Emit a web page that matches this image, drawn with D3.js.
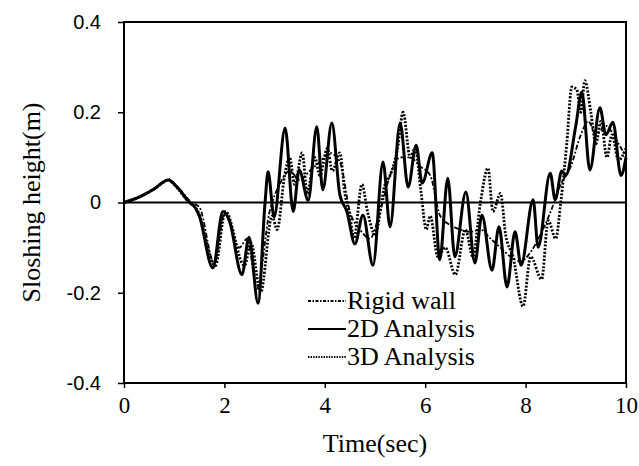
<!DOCTYPE html>
<html lang="en">
<head>
    <meta charset="UTF-8">
    <title>Sloshing height</title>
    <script src="https://cdnjs.cloudflare.com/ajax/libs/d3/7.8.5/d3.min.js"></script>
    <style>
        body {
            margin: 0;
            background-color: white;
        }

        #chart text {
            fill: black;
        }
    </style>
</head>
<body>
<section id="chart"></section>
<script>
    // values
    const xTicks = [0, 2, 4, 6, 8, 10];
    const yTicks = [0.4, 0.2, 0, -0.2, -0.4];
    const yTickLabels = ['0.4', '0.2', '0', '-0.2', '-0.4'];
    const legendLabels = ['Rigid wall', '2D Analysis', '3D Analysis'];

    const timeRigid = [0, 0.3, 0.6, 0.9, 1.1, 1.35, 1.5, 1.8, 2.0, 2.3, 2.45, 2.65, 2.9, 3.1, 3.3, 3.5, 3.7,
        3.9, 4.1, 4.3, 4.5, 4.7, 4.9, 5.1, 5.3, 5.5, 5.7, 5.9, 6.1, 6.3, 6.5, 6.7, 6.9, 7.1, 7.3, 7.5, 7.7,
        7.9, 8.1, 8.3, 8.5, 8.7, 8.9, 9.1, 9.25, 9.4, 9.6, 9.8, 10];
    const rigidWall = [0, 0.012, 0.03, 0.05, 0.03, 0, -0.01, -0.135, -0.025, -0.1, -0.08, -0.19, -0.02, 0.04,
        0.07, 0.05, 0.07, 0.09, 0.11, 0.09, -0.02, -0.06, -0.08, -0.02, 0.06, 0.1, 0.1, 0.08, 0.06, -0.03,
        -0.05, -0.06, -0.065, -0.06, -0.08, -0.1, -0.12, -0.13, -0.11, -0.07, -0.02, 0.04, 0.08, 0.15, 0.18,
        0.15, 0.17, 0.14, 0.1];

    const time2D = [0, 0.3, 0.6, 0.88, 1.05, 1.31, 1.41, 1.5, 1.77, 1.97, 2.1, 2.35, 2.49, 2.67, 2.81, 2.87,
        2.99, 3.21, 3.37, 3.49, 3.67, 3.84, 3.96, 4.14, 4.3, 4.44, 4.6, 4.76, 4.96, 5.16, 5.3, 5.5, 5.66,
        5.82, 5.94, 6.14, 6.29, 6.45, 6.59, 6.81, 6.99, 7.13, 7.33, 7.47, 7.63, 7.79, 7.91, 8.15, 8.25, 8.49,
        8.59, 8.72, 8.8, 9.0, 9.12, 9.28, 9.48, 9.6, 9.74, 9.9, 10];
    const analysis2D = [0, 0.012, 0.03, 0.05, 0.035, 0, -0.01, -0.03, -0.145, -0.02, -0.04, -0.16, -0.077,
        -0.223, 0, 0.068, -0.032, 0.165, -0.02, 0.072, 0.005, 0.168, 0.028, 0.176, 0.017, -0.02, -0.092,
        -0.028, -0.139, 0.09, -0.054, 0.176, 0.034, 0.127, 0.043, 0.11, -0.127, 0.054, -0.12, 0.023, -0.134,
        -0.028, -0.15, -0.054, -0.187, -0.065, -0.139, 0.006, -0.099, 0.065, 0.006, 0.07, 0.06, 0.17, 0.245,
        0.072, 0.21, 0.15, 0.178, 0.06, 0.1];

    const time3D = [0, 0.3, 0.6, 0.9, 1.0, 1.3, 1.45, 1.82, 2.02, 2.4, 2.53, 2.72, 2.95, 3.05, 3.2, 3.3, 3.4,
        3.55, 3.65, 3.8, 3.9, 4.05, 4.15, 4.3, 4.4, 4.5, 4.58, 4.74, 4.85, 5.0, 5.2, 5.3, 5.45, 5.56, 5.7,
        5.8, 5.92, 6.02, 6.1, 6.25, 6.4, 6.6, 6.8, 6.95, 7.1, 7.25, 7.35, 7.5, 7.6, 7.75, 7.95, 8.1, 8.32,
        8.45, 8.6, 8.7, 8.82, 8.92, 9.02, 9.1, 9.18, 9.3, 9.4, 9.5, 9.62, 9.72, 9.85, 10];
    const analysis3D = [0, 0.012, 0.03, 0.05, 0.04, 0, -0.015, -0.14, -0.02, -0.14, -0.09, -0.2, -0.03, -0.06,
        0.06, 0.1, 0.04, 0.11, 0.02, 0.1, 0.06, 0.12, 0.07, 0.11, 0.02, -0.03, -0.08, 0.04, -0.02, -0.07,
        0.04, 0.06, 0.12, 0.2, 0.1, 0.12, 0.02, -0.06, -0.03, -0.12, -0.1, -0.16, -0.06, -0.12, 0, 0.076,
        -0.02, 0.02, -0.07, -0.12, -0.23, -0.12, -0.17, -0.04, -0.08, 0, 0.13, 0.256, 0.25, 0.2, 0.27, 0.2,
        0.13, 0.18, 0.1, 0.15, 0.094, 0.12];

    const serif = '"Liberation Serif", "Times New Roman", serif';
    const sans = '"Liberation Sans", Arial, sans-serif';

    const width = 639;
    const height = 466;
    const margin = {top: 22, right: 13, bottom: 83, left: 124};

    const svg = d3.select('#chart')
        .append('svg')
        .attr('width', width)
        .attr('height', height);

    const x = d3.scaleLinear().domain([0, 10]).range([margin.left, width - margin.right]);
    const y = d3.scaleLinear().domain([-0.4, 0.4]).range([height - margin.bottom, margin.top]);

    const series = [
        {time: timeRigid, values: rigidWall, width: 1.8, dash: '5,2,1.8,2', legendDash: '3,1.5,1.5,1.5'},
        {time: time2D, values: analysis2D, width: 3, dash: null, legendDash: null},
        {time: time3D, values: analysis3D, width: 2.8, dash: '2,1.6', legendDash: '1.4,1.2'}
    ];

    const line = d3.line()
        .x(d => x(d[0]))
        .y(d => y(d[1]))
        .curve(d3.curveMonotoneX);

    // zero line
    svg.append('line')
        .attr('x1', x(0)).attr('x2', x(10))
        .attr('y1', y(0)).attr('y2', y(0))
        .attr('stroke', 'black').attr('stroke-width', 2);

    svg.append('g')
        .selectAll('path')
        .data(series)
        .enter()
        .append('path')
        .attr('fill', 'none')
        .attr('stroke', 'black')
        .attr('stroke-width', d => d.width)
        .attr('stroke-dasharray', d => d.dash)
        .attr('stroke-linejoin', 'round')
        .attr('d', d => line(d.time.map((t, i) => [t, d.values[i]])));

    // frame
    svg.append('rect')
        .attr('x', x(0)).attr('y', y(0.4))
        .attr('width', x(10) - x(0)).attr('height', y(-0.4) - y(0.4))
        .attr('fill', 'none').attr('stroke', 'black').attr('stroke-width', 2);

    const xAxis = svg.append('g')
        .attr('transform', `translate(0, ${y(-0.4)})`)
        .call(d3.axisBottom(x).tickValues(xTicks).tickSize(5).tickPadding(9));
    xAxis.select('.domain').remove();
    xAxis.selectAll('line').attr('stroke-width', 1.5);
    xAxis.selectAll('text').style('font-family', serif).style('font-size', '23px');

    const yAxis = svg.append('g')
        .attr('transform', `translate(${x(0)}, 0)`)
        .call(d3.axisLeft(y).tickValues(yTicks).tickSize(6).tickPadding(17)
            .tickFormat((d, i) => yTickLabels[i]));
    yAxis.select('.domain').remove();
    yAxis.selectAll('line').attr('stroke-width', 1.5);
    yAxis.selectAll('text').style('font-family', sans).style('font-size', '20px');

    svg.append('text')
        .attr('x', (x(0) + x(10)) / 2)
        .attr('y', 452)
        .attr('text-anchor', 'middle')
        .style('font-family', serif)
        .style('font-size', '26px')
        .text('Time(sec)');

    svg.append('text')
        .attr('transform', `translate(40, ${(y(0.4) + y(-0.4)) / 2}) rotate(-90)`)
        .attr('text-anchor', 'middle')
        .style('font-family', serif)
        .style('font-size', '26px')
        .text('Sloshing height(m)');

    const legend = svg.append('g').attr('transform', 'translate(308, 301)');
    const rowHeight = 28;
    legend.selectAll('line')
        .data(series)
        .enter()
        .append('line')
        .attr('x1', 0).attr('x2', 38)
        .attr('y1', (_, i) => i * rowHeight).attr('y2', (_, i) => i * rowHeight)
        .attr('stroke', 'black')
        .attr('stroke-width', 1.8)
        .attr('stroke-dasharray', d => d.legendDash);
    legend.selectAll('text')
        .data(legendLabels)
        .enter()
        .append('text')
        .attr('x', 39)
        .attr('y', (_, i) => i * rowHeight + 8)
        .style('font-family', serif)
        .style('font-size', '26px')
        .text(d => d);
</script>
</body>
</html>
